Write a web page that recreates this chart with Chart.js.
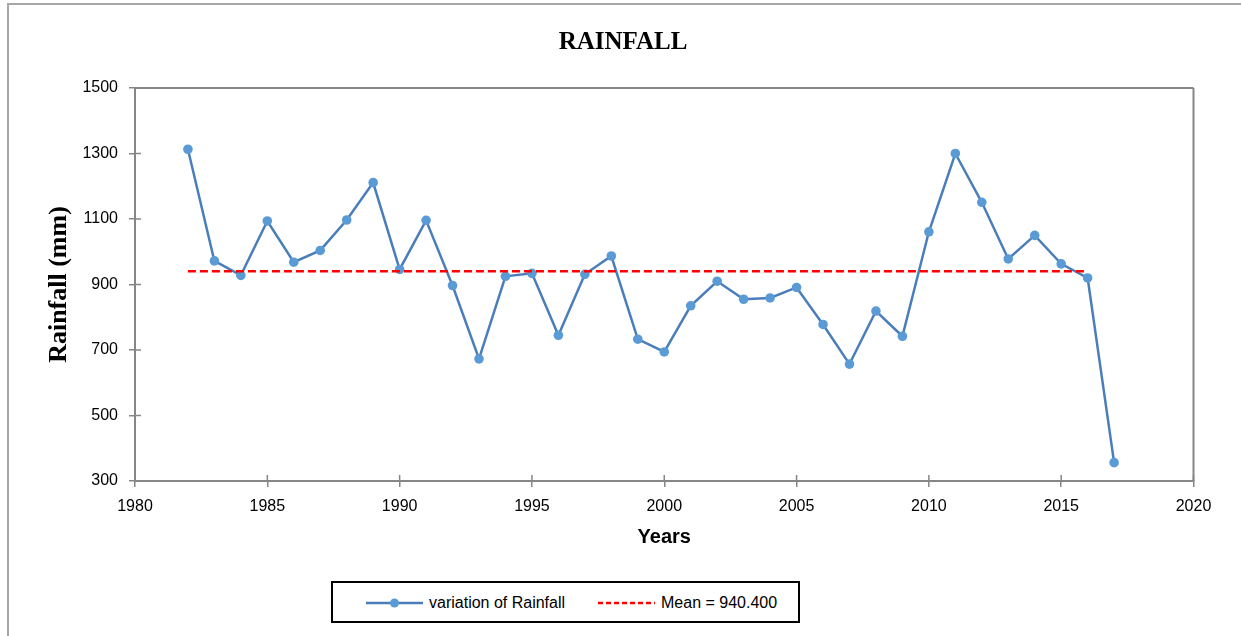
<!DOCTYPE html>
<html>
<head>
<meta charset="utf-8">
<script src="https://cdn.jsdelivr.net/npm/chart.js@4.4.1/dist/chart.umd.min.js"></script>
<style>
  html, body { margin: 0; padding: 0; background: #fff; }
  body { width: 1241px; height: 636px; position: relative; overflow: hidden; }
  #frame { position: absolute; left: 7px; top: 3px; width: 1300px; height: 700px;
           border-top: 2px solid #a6a6a6; border-left: 2px solid #a6a6a6; z-index: 0; }
  #wrap { position: absolute; left: 0; top: 0; width: 1241px; height: 636px; z-index: 1; }
  #legend { position: absolute; left: 331px; top: 581px; width: 469px; height: 42px;
            box-sizing: border-box; border: 2px solid #000; z-index: 2; background: #fff;
            font-family: "Liberation Sans", Arial, sans-serif; font-size: 16px; color: #000; }
  .item { position: absolute; top: 1px; height: 38px; display: flex; align-items: center; }
  .item svg { display: block; margin-right: 6px; }
</style>
</head>
<body>
<div id="frame"></div>
<div id="wrap"><canvas id="c" width="1241" height="636"></canvas></div>
<div id="legend"></div>
<script>
// ---- data ----
const years = [1982, 1983, 1984, 1985, 1986, 1987, 1988, 1989, 1990, 1991,
               1992, 1993, 1994, 1995, 1996, 1997, 1998, 1999, 2000, 2001,
               2002, 2003, 2004, 2005, 2006, 2007, 2008, 2009, 2010, 2011,
               2012, 2013, 2014, 2015, 2016, 2017];
const rainfall = [1313, 972, 928, 1094, 968, 1004, 1097, 1211, 946, 1096,
                  897, 673, 925, 934, 745, 931, 987, 733, 694, 835,
                  910, 855, 859, 891, 778, 657, 819, 742, 1061, 1300,
                  1151, 978, 1050, 963, 920, 356];
const meanValue = 940.4;
const meanYears = [1982, 2016];
const xTicks = [1980, 1985, 1990, 1995, 2000, 2005, 2010, 2015, 2020];
const yTicks = [300, 500, 700, 900, 1100, 1300, 1500];
const seriesLabel = 'variation of Rainfall';
const meanLabel = 'Mean = 940.400';

const rainPoints = years.map((y, i) => ({ x: y, y: rainfall[i] }));
const meanPoints = meanYears.map(y => ({ x: y, y: meanValue }));

const AXIS = '#868686';
const tickFont = { family: '"Liberation Sans", Arial, sans-serif', size: 16 };

const frameAndTicks = {
  id: 'frameAndTicks',
  afterDraw(chart) {
    const { ctx, chartArea: a, scales } = chart;
    ctx.save();
    ctx.strokeStyle = AXIS;
    ctx.lineWidth = 2;
    ctx.beginPath();
    ctx.moveTo(a.left, a.top); ctx.lineTo(a.right, a.top);
    ctx.moveTo(a.right, a.top); ctx.lineTo(a.right, a.bottom);
    ctx.stroke();
    ctx.lineWidth = 1.5;
    ctx.beginPath();
    scales.x.ticks.forEach(t => {
      const px = scales.x.getPixelForValue(t.value);
      ctx.moveTo(px, a.bottom); ctx.lineTo(px, a.bottom - 6);
    });
    scales.y.ticks.forEach(t => {
      const py = scales.y.getPixelForValue(t.value);
      ctx.moveTo(a.left, py); ctx.lineTo(a.left + 6, py);
    });
    ctx.stroke();
    ctx.restore();
  }
};

const chart = new Chart(document.getElementById('c'), {
  type: 'line',
  data: {
    datasets: [
      {
        label: seriesLabel,
        data: rainPoints,
        borderColor: '#4a7ebb',
        backgroundColor: '#5b9bd5',
        pointBackgroundColor: '#5b9bd5',
        pointBorderColor: '#5b9bd5',
        pointRadius: 4.8,
        pointBorderWidth: 0,
        borderWidth: 2.5,
        tension: 0,
        order: 1
      },
      {
        label: meanLabel,
        data: meanPoints,
        borderColor: '#ff0000',
        backgroundColor: '#ff0000',
        borderWidth: 2.5,
        borderDash: [8, 4],
        pointRadius: 0,
        tension: 0,
        order: 0
      }
    ]
  },
  options: {
    responsive: false,
    animation: false,
    events: [],
    layout: { padding: { left: 5, right: 0, top: 0, bottom: 0 } },
    plugins: {
      legend: { display: false },
      tooltip: { enabled: false },
      title: {
        display: true,
        text: 'RAINFALL',
        color: '#000',
        font: { family: '"Liberation Serif", "Times New Roman", serif', size: 25, weight: 'bold', lineHeight: 1.2 },
        padding: { top: 28, bottom: 30 }
      }
    },
    scales: {
      x: {
        type: 'linear',
        min: 1980, max: 2020,
        afterBuildTicks: s => { s.ticks = xTicks.map(v => ({ value: v })); },
        ticks: { color: '#000', font: tickFont, padding: 10, maxRotation: 0, callback: v => String(v) },
        grid: { display: true, drawOnChartArea: false, drawTicks: true, tickLength: 6, color: AXIS, lineWidth: 1.5 },
        border: { display: true, color: AXIS, width: 2 },
        title: {
          display: true, text: 'Years', color: '#000',
          font: { family: '"Liberation Sans", Arial, sans-serif', size: 20, weight: 'bold', lineHeight: 1.2 },
          padding: { top: 0, bottom: 87 }
        },
        afterFit: s => { s.height = 155; }
      },
      y: {
        type: 'linear',
        min: 300, max: 1500,
        afterBuildTicks: s => { s.ticks = yTicks.map(v => ({ value: v })); },
        ticks: { color: '#000', font: tickFont, padding: 11, callback: v => String(v) },
        grid: { display: true, drawOnChartArea: false, drawTicks: true, tickLength: 6, color: AXIS, lineWidth: 1.5 },
        border: { display: true, color: AXIS, width: 2 },
        title: {
          display: true, text: 'Rainfall (mm)', color: '#000',
          font: { family: '"Liberation Serif", "Times New Roman", serif', size: 26, weight: 'bold', lineHeight: 1.2 },
          padding: { top: 39, bottom: 0 }
        },
        afterFit: s => { s.width = 130; }
      },
      yRight: {
        type: 'linear',
        position: 'right',
        display: true,
        min: 300, max: 1500,
        ticks: { display: false },
        grid: { display: false, drawTicks: false },
        border: { display: false },
        afterFit: s => { s.width = 47.5; }
      }
    }
  },
  plugins: [frameAndTicks]
});

// ---- HTML legend built from the chart's datasets ----
const legendEl = document.getElementById('legend');
const positions = [33, 265];
chart.data.datasets.forEach((ds, i) => {
  const item = document.createElement('div');
  item.className = 'item';
  item.style.left = positions[i] + 'px';
  const ns = 'http://www.w3.org/2000/svg';
  const svg = document.createElementNS(ns, 'svg');
  svg.setAttribute('width', '57'); svg.setAttribute('height', '12');
  const line = document.createElementNS(ns, 'line');
  line.setAttribute('x1', '0'); line.setAttribute('x2', '57');
  line.setAttribute('y1', '6'); line.setAttribute('y2', '6');
  line.setAttribute('stroke', ds.borderColor);
  line.setAttribute('stroke-width', '2.5');
  if (ds.borderDash) line.setAttribute('stroke-dasharray', '5 3');
  svg.appendChild(line);
  if (ds.pointRadius) {
    const c = document.createElementNS(ns, 'circle');
    c.setAttribute('cx', '28.5'); c.setAttribute('cy', '6'); c.setAttribute('r', '4.5');
    c.setAttribute('fill', ds.pointBackgroundColor);
    svg.appendChild(c);
  }
  item.appendChild(svg);
  const span = document.createElement('span');
  span.textContent = ds.label;
  item.appendChild(span);
  legendEl.appendChild(item);
});
</script>
</body>
</html>
